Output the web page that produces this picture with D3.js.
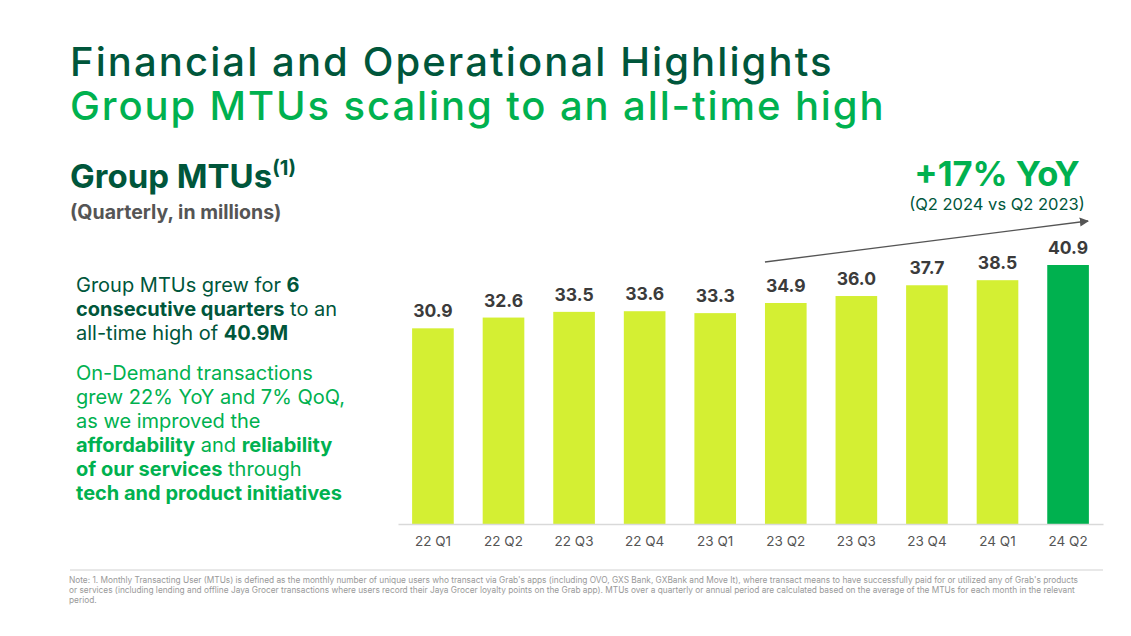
<!DOCTYPE html>
<html>
<head>
<meta charset="utf-8">
<script src="https://cdn.jsdelivr.net/npm/d3@7"></script>
<style>
  body { margin: 0; background: #fff; }
  svg { display: block; font-family: Inter, "Noto Sans", sans-serif; }
</style>
</head>
<body>
<svg id="chart" width="1131" height="636"></svg>
<script>
const quarters = ["22 Q1", "22 Q2", "22 Q3", "22 Q4", "23 Q1", "23 Q2", "23 Q3", "23 Q4", "24 Q1", "24 Q2"];
const mtus = [30.9, 32.6, 33.5, 33.6, 33.3, 34.9, 36.0, 37.7, 38.5, 40.9];
const highlightQuarter = "24 Q2";

const DARK = "#00563b";
const GREEN = "#00b14f";
const LIME = "#d4ef33";

const svg = d3.select("#chart");

// headings
svg.append("text").attr("x", 70).attr("y", 76)
  .attr("font-size", 40).attr("font-weight", 500).attr("letter-spacing", 2.1).attr("fill", DARK)
  .text("Financial and Operational Highlights");
svg.append("text").attr("x", 70).attr("y", 120)
  .attr("font-size", 40).attr("font-weight", 500).attr("letter-spacing", 1.9).attr("fill", GREEN)
  .text("Group MTUs scaling to an all-time high");

const sub = svg.append("text").attr("x", 70).attr("y", 188)
  .attr("font-size", 33).attr("font-weight", 700).attr("fill", DARK);
sub.append("tspan").text("Group MTUs");
sub.append("tspan").attr("font-size", 20).attr("dy", -13).text("(1)");
svg.append("text").attr("x", 70).attr("y", 219)
  .attr("font-size", 19.5).attr("font-weight", 700).attr("fill", "#555")
  .text("(Quarterly, in millions)");

// left commentary
const para = (lines, y0, color) => {
  lines.forEach((parts, i) => {
    const t = svg.append("text").attr("x", 76).attr("y", y0 + i * 24)
      .attr("font-size", 20).attr("fill", color);
    parts.forEach(([s, b]) => t.append("tspan").attr("font-weight", b ? 700 : 400).text(s));
  });
};
para([
  [["Group MTUs grew for ", 0], ["6", 1]],
  [["consecutive quarters", 1], [" to an", 0]],
  [["all-time high of ", 0], ["40.9M", 1]]
], 292, DARK);
para([
  [["On-Demand transactions", 0]],
  [["grew 22% YoY and 7% QoQ,", 0]],
  [["as we improved the", 0]],
  [["affordability", 1], [" and ", 0], ["reliability", 1]],
  [["of our services", 1], [" through", 0]],
  [["tech and product initiatives", 1]]
], 380, GREEN);

// bar chart
const x = d3.scaleBand().domain(quarters).range([398, 1103]).paddingInner(0.41).paddingOuter(0.2);
const y = d3.scaleLinear().domain([0, 40.9]).range([524, 265]);

const g = svg.append("g");
g.selectAll("rect").data(quarters).enter().append("rect")
  .attr("x", d => x(d))
  .attr("y", (d, i) => y(mtus[i]))
  .attr("width", x.bandwidth())
  .attr("height", (d, i) => y(0) - y(mtus[i]))
  .attr("fill", d => d === highlightQuarter ? GREEN : LIME);

g.selectAll(".val").data(quarters).enter().append("text")
  .attr("class", "val")
  .attr("x", d => x(d) + x.bandwidth() / 2)
  .attr("y", (d, i) => y(mtus[i]) - 11)
  .attr("text-anchor", "middle")
  .attr("font-size", 17.5).attr("font-weight", 700).attr("fill", "#3b3b3b")
  .text((d, i) => mtus[i].toFixed(1));

const xAxis = d3.axisBottom(x).tickSize(0).tickPadding(12);
const ax = svg.append("g").attr("transform", "translate(0,524)").call(xAxis);
ax.select(".domain").attr("stroke", "#d9d9d9").attr("stroke-width", 1.5);
ax.selectAll("text").attr("font-size", 13.5).attr("fill", "#555")
  .attr("font-family", "Inter, 'Noto Sans', sans-serif");

// YoY arrow
svg.append("defs").append("marker").attr("id", "arr")
  .attr("viewBox", "0 0 10 10").attr("refX", 9).attr("refY", 5)
  .attr("markerWidth", 7).attr("markerHeight", 7).attr("orient", "auto")
  .append("path").attr("d", "M0,0L10,5L0,10z").attr("fill", "#555");
svg.append("line")
  .attr("x1", x("23 Q2")).attr("y1", 262)
  .attr("x2", x("24 Q2") + x.bandwidth() / 2 + 20).attr("y2", 221)
  .attr("stroke", "#555").attr("stroke-width", 1.3).attr("marker-end", "url(#arr)");

svg.append("text").attr("x", 997).attr("y", 186).attr("text-anchor", "middle")
  .attr("font-size", 34.5).attr("font-weight", 700).attr("fill", GREEN).text("+17% YoY");
svg.append("text").attr("x", 997).attr("y", 210).attr("text-anchor", "middle")
  .attr("font-size", 16.5).attr("fill", DARK).text("(Q2 2024 vs Q2 2023)");

// footnote
svg.append("line").attr("x1", 70).attr("x2", 1103).attr("y1", 570).attr("y2", 570)
  .attr("stroke", "#e0e0e0").attr("stroke-width", 1.5);
const notes = [
  "Note: 1. Monthly Transacting User (MTUs) is defined as the monthly number of unique users who transact via Grab's apps (including OVO, GXS Bank, GXBank and Move It), where transact means to have successfully paid for or utilized any of Grab's products",
  "or services (including lending and offline Jaya Grocer transactions where users record their Jaya Grocer loyalty points on the Grab app). MTUs over a quarterly or annual period are calculated based on the average of the MTUs for each month in the relevant",
  "period."
];
notes.forEach((n, i) => {
  svg.append("text").attr("x", 69).attr("y", 583 + i * 10)
    .attr("font-size", 8.3).attr("fill", "#999")
    .text(n);
});
</script>
</body>
</html>
